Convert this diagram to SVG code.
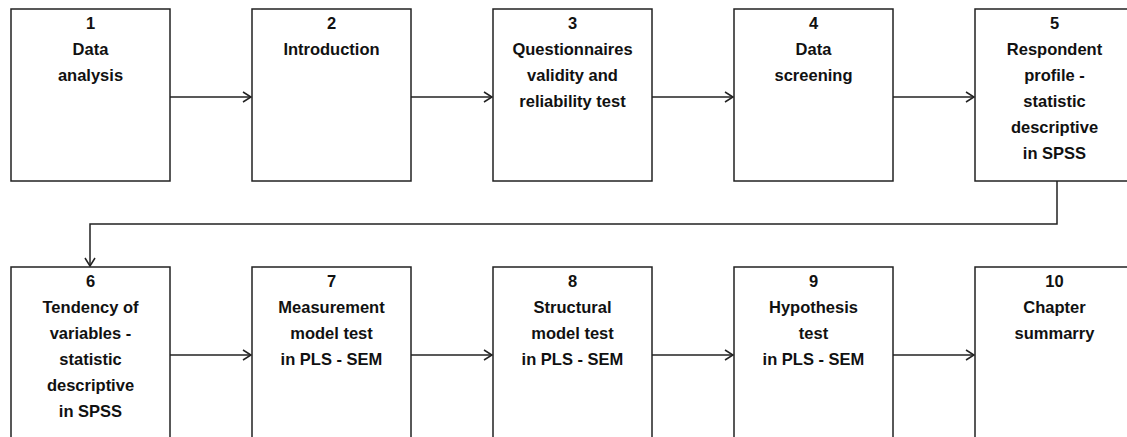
<svg xmlns="http://www.w3.org/2000/svg" width="1127" height="437" viewBox="0 0 1127 437">
<style>
.box{fill:#fff;stroke:#222;stroke-width:1.5}
.t{font-family:"Liberation Sans",Arial,sans-serif;font-weight:bold;font-size:16.5px;fill:#111;text-anchor:middle}
.c{fill:none;stroke:#222;stroke-width:1.5}
</style>
<defs>
<marker id="ah" markerWidth="12" markerHeight="12" refX="10" refY="6" orient="auto" markerUnits="userSpaceOnUse">
<path d="M2,1 L10,6 L2,11" fill="none" stroke="#222" stroke-width="1.5"/>
</marker>
</defs>
<rect width="1127" height="437" fill="#fff"/>
<g id="connectors">
<line class="c" x1="170" y1="97" x2="251" y2="97" marker-end="url(#ah)"/>
<line class="c" x1="411" y1="97" x2="492" y2="97" marker-end="url(#ah)"/>
<line class="c" x1="652" y1="97" x2="733" y2="97" marker-end="url(#ah)"/>
<line class="c" x1="893" y1="97" x2="974" y2="97" marker-end="url(#ah)"/>
<polyline class="c" points="1057,181 1057,224 90,224 90,266" marker-end="url(#ah)"/>
<line class="c" x1="170" y1="355" x2="251" y2="355" marker-end="url(#ah)"/>
<line class="c" x1="411" y1="355" x2="492" y2="355" marker-end="url(#ah)"/>
<line class="c" x1="652" y1="355" x2="733" y2="355" marker-end="url(#ah)"/>
<line class="c" x1="893" y1="355" x2="974" y2="355" marker-end="url(#ah)"/>
</g>
<g id="n1"><rect class="box" x="11" y="9" width="159" height="172"/>
<text class="t" x="90.5" y="29">1</text><text class="t" x="90.5" y="55">Data</text><text class="t" x="90.5" y="81">analysis</text></g>
<g id="n2"><rect class="box" x="252" y="9" width="159" height="172"/>
<text class="t" x="331.5" y="29">2</text><text class="t" x="331.5" y="55">Introduction</text></g>
<g id="n3"><rect class="box" x="493" y="9" width="159" height="172"/>
<text class="t" x="572.5" y="29">3</text><text class="t" x="572.5" y="55">Questionnaires</text><text class="t" x="572.5" y="81">validity and</text><text class="t" x="572.5" y="107">reliability test</text></g>
<g id="n4"><rect class="box" x="734" y="9" width="159" height="172"/>
<text class="t" x="813.5" y="29">4</text><text class="t" x="813.5" y="55">Data</text><text class="t" x="813.5" y="81">screening</text></g>
<g id="n5"><rect class="box" x="975" y="9" width="159" height="172"/>
<text class="t" x="1054.5" y="29">5</text><text class="t" x="1054.5" y="55">Respondent</text><text class="t" x="1054.5" y="81">profile -</text><text class="t" x="1054.5" y="107">statistic</text><text class="t" x="1054.5" y="133">descriptive</text><text class="t" x="1054.5" y="159">in SPSS</text></g>
<g id="n6"><rect class="box" x="11" y="267" width="159" height="180"/>
<text class="t" x="90.5" y="287">6</text><text class="t" x="90.5" y="313">Tendency of</text><text class="t" x="90.5" y="339">variables -</text><text class="t" x="90.5" y="365">statistic</text><text class="t" x="90.5" y="391">descriptive</text><text class="t" x="90.5" y="417">in SPSS</text></g>
<g id="n7"><rect class="box" x="252" y="267" width="159" height="180"/>
<text class="t" x="331.5" y="287">7</text><text class="t" x="331.5" y="313">Measurement</text><text class="t" x="331.5" y="339">model test</text><text class="t" x="331.5" y="365">in PLS - SEM</text></g>
<g id="n8"><rect class="box" x="493" y="267" width="159" height="180"/>
<text class="t" x="572.5" y="287">8</text><text class="t" x="572.5" y="313">Structural</text><text class="t" x="572.5" y="339">model test</text><text class="t" x="572.5" y="365">in PLS - SEM</text></g>
<g id="n9"><rect class="box" x="734" y="267" width="159" height="180"/>
<text class="t" x="813.5" y="287">9</text><text class="t" x="813.5" y="313">Hypothesis</text><text class="t" x="813.5" y="339">test</text><text class="t" x="813.5" y="365">in PLS - SEM</text></g>
<g id="n10"><rect class="box" x="975" y="267" width="159" height="180"/>
<text class="t" x="1054.5" y="287">10</text><text class="t" x="1054.5" y="313">Chapter</text><text class="t" x="1054.5" y="339">summarry</text></g>
</svg>
